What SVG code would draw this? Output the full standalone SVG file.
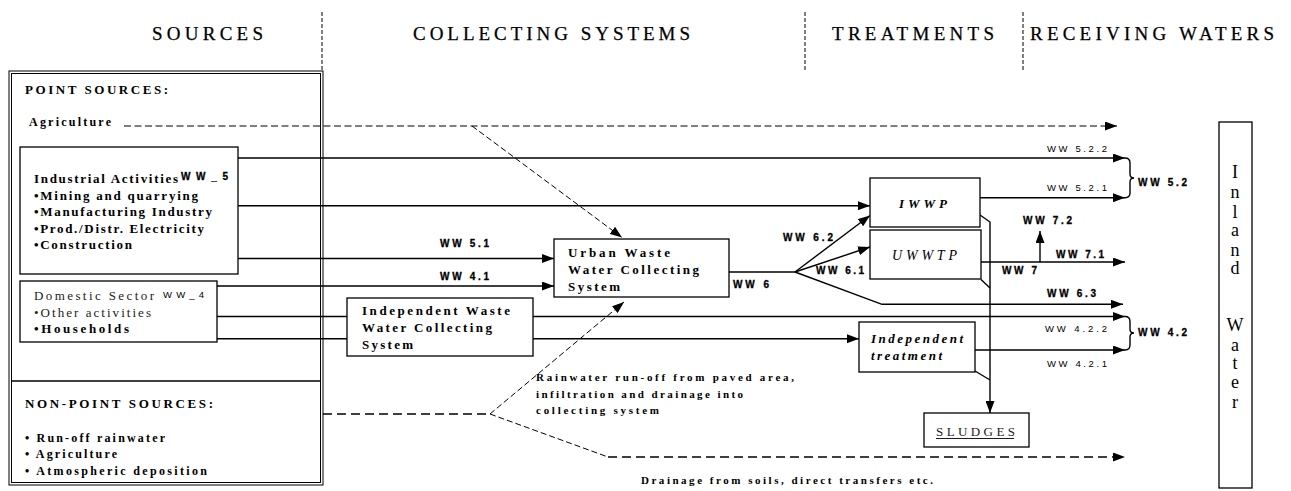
<svg xmlns="http://www.w3.org/2000/svg" width="1291" height="491" viewBox="0 0 1291 491">
<style>
.hd{font-family:"Liberation Serif","Times New Roman",serif;font-size:19px;fill:#000;stroke:#000;stroke-width:0.25}
.b13{font-family:"Liberation Serif","Times New Roman",serif;font-size:13px;font-weight:bold;fill:#000}
.b12{font-family:"Liberation Serif","Times New Roman",serif;font-size:12px;font-weight:bold;fill:#000}
.r13{font-family:"Liberation Serif","Times New Roman",serif;font-size:13px;fill:#222}
.bi{font-family:"Liberation Serif","Times New Roman",serif;font-size:13px;font-weight:bold;font-style:italic;fill:#000}
.it{font-family:"Liberation Serif","Times New Roman",serif;font-size:14px;font-style:italic;fill:#000}
.note{font-family:"Liberation Serif","Times New Roman",serif;font-size:11px;font-weight:bold;fill:#000}
.iw{font-family:"Liberation Serif","Times New Roman",serif;font-size:18px;fill:#000;text-anchor:middle}
.ww{font-family:"Liberation Sans",Arial,sans-serif;font-size:10px;font-weight:bold;fill:#000;stroke:#000;stroke-width:0.3}
.wl{font-family:"Liberation Sans",Arial,sans-serif;font-size:9.5px;fill:#000}
.box{fill:#fff;stroke:#000;stroke-width:1.3}
.ln{fill:none;stroke:#000;stroke-width:1.4}
.dv{fill:none;stroke:#000;stroke-width:1;stroke-dasharray:4,2}
.dh{fill:none;stroke:#000;stroke-width:1.2;stroke-dasharray:7,3.5}
.dd{fill:none;stroke:#000;stroke-width:1;stroke-dasharray:6,3}
.dk{fill:none;stroke:#000;stroke-width:1.6;stroke-dasharray:9,5}
</style>
<defs>
<marker id="ah" markerUnits="userSpaceOnUse" markerWidth="12" markerHeight="9" refX="12" refY="4.5" orient="auto" viewBox="0 0 12 9">
<path d="M0,0 L12,4.5 L0,9 z" fill="#000"/>
</marker>
</defs>
<rect width="1291" height="491" fill="#fff"/>

<g id="headers">
<line class="dv" x1="322" y1="12" x2="322" y2="72"/>
<line class="dv" x1="805" y1="12" x2="805" y2="72"/>
<line class="dv" x1="1023" y1="12" x2="1023" y2="72"/>
<text class="hd" x="152" y="39.5" textLength="111" lengthAdjust="spacing">SOURCES</text>
<text class="hd" x="413" y="39.5" textLength="277" lengthAdjust="spacing">COLLECTING SYSTEMS</text>
<text class="hd" x="832" y="39.5" textLength="162" lengthAdjust="spacing">TREATMENTS</text>
<text class="hd" x="1030" y="39.5" textLength="244" lengthAdjust="spacing">RECEIVING WATERS</text>
</g>

<g id="sources-frame">
<rect x="9" y="71" width="314" height="414" fill="none" stroke="#000" stroke-width="1"/>
<rect x="11.5" y="73.5" width="309" height="409" fill="none" stroke="#000" stroke-width="1"/>
<line x1="11.5" y1="381" x2="320.5" y2="381" stroke="#000" stroke-width="1.3"/>
<text class="b13" x="25" y="94" textLength="143" lengthAdjust="spacing">POINT SOURCES:</text>
<text class="b12" x="29" y="126" textLength="82" lengthAdjust="spacing">Agriculture</text>
<text class="b13" x="25" y="408" textLength="188" lengthAdjust="spacing">NON-POINT SOURCES:</text>
<text class="b12" x="25" y="441.7" textLength="140" lengthAdjust="spacing">• Run-off rainwater</text>
<text class="b12" x="25" y="458" textLength="92" lengthAdjust="spacing">• Agriculture</text>
<text class="b12" x="25" y="475" textLength="182" lengthAdjust="spacing">• Atmospheric deposition</text>
</g>

<g id="connectors">
<path class="dh" d="M124,126 H1117" marker-end="url(#ah)"/>
<path class="dd" d="M472,126 L622,237.5" marker-end="url(#ah)"/>
<path class="ln" d="M238,158 H1125" marker-end="url(#ah)"/>
<path class="ln" d="M238,205.7 H870" marker-end="url(#ah)"/>
<path class="ln" d="M238,258.5 H554" marker-end="url(#ah)"/>
<path class="ln" d="M217,286 H554" marker-end="url(#ah)"/>
<path class="ln" d="M217,316.5 H1125" marker-end="url(#ah)"/>
<path class="ln" d="M217,338.7 H859" marker-end="url(#ah)"/>
<path class="ln" d="M729,272 H795"/>
<path class="ln" d="M795,272 L870,215.5" marker-end="url(#ah)"/>
<path class="ln" d="M795,272 L870,247" marker-end="url(#ah)"/>
<path class="ln" d="M795,272 L882,304.3 H1123" marker-end="url(#ah)"/>
<path class="ln" d="M980,197.7 H1125" marker-end="url(#ah)"/>
<path class="ln" d="M981,262 H1125" marker-end="url(#ah)"/>
<path class="ln" d="M1040,262 V231" marker-end="url(#ah)"/>
<path class="ln" d="M975,350 H1125" marker-end="url(#ah)"/>
<path class="ln" d="M980,215 L990,222 V413" marker-end="url(#ah)"/>
<path class="ln" d="M981,279.5 L990,288"/>
<path class="ln" d="M975,371 L990,380"/>
<path class="ln" d="M1125,158 Q1130,158 1130,163 V174 Q1130,178 1134,178 Q1130,178 1130,182 V193 Q1130,197.7 1125,197.7"/>
<path class="ln" d="M1125,316.5 Q1130,316.5 1130,321.5 V329 Q1130,333 1134,333 Q1130,333 1130,337 V345 Q1130,350 1125,350"/>
<path class="dk" d="M323,414 H490"/>
<path class="dd" d="M490,414 L624,302" marker-end="url(#ah)"/>
<path class="dd" d="M490,414 L608,457"/>
<path class="dk" d="M608,457 H1125" marker-end="url(#ah)"/>
</g>

<g id="industrial">
<rect class="box" x="20" y="147" width="218" height="127"/>
<text class="b13" x="34" y="183" textLength="144" lengthAdjust="spacing">Industrial Activities</text>
<text class="ww" x="181" y="180" font-size="10" textLength="47" lengthAdjust="spacing">WW_5</text>
<text class="b13" x="34" y="199.5" textLength="164" lengthAdjust="spacing">•Mining and quarrying</text>
<text class="b13" x="34" y="216" textLength="178" lengthAdjust="spacing">•Manufacturing Industry</text>
<text class="b13" x="34" y="232.5" textLength="170" lengthAdjust="spacing">•Prod./Distr. Electricity</text>
<text class="b13" x="34" y="249" textLength="98" lengthAdjust="spacing">•Construction</text>
</g>

<g id="domestic">
<rect class="box" x="20" y="281" width="197" height="61"/>
<text class="r13" x="34" y="300" textLength="120" lengthAdjust="spacing">Domestic Sector</text>
<text class="wl" x="163" y="298" font-size="9.5" textLength="41" lengthAdjust="spacing">WW_4</text>
<text class="r13" x="34" y="316.7" textLength="117" lengthAdjust="spacing">•Other activities</text>
<text class="b13" x="34" y="333" textLength="95" lengthAdjust="spacing">•Households</text>
</g>

<g id="urban">
<rect class="box" x="554" y="239" width="175" height="58"/>
<text class="b13" x="568" y="257.3" textLength="102" lengthAdjust="spacing">Urban Waste</text>
<text class="b13" x="568" y="274.3" textLength="131" lengthAdjust="spacing">Water Collecting</text>
<text class="b13" x="568" y="290.7" textLength="52" lengthAdjust="spacing">System</text>
</g>

<g id="independent-collecting">
<rect class="box" x="347" y="298" width="186" height="58"/>
<text class="b13" x="362" y="315" textLength="148" lengthAdjust="spacing">Independent Waste</text>
<text class="b13" x="362" y="331.7" textLength="130" lengthAdjust="spacing">Water Collecting</text>
<text class="b13" x="362" y="349.3" textLength="51" lengthAdjust="spacing">System</text>
</g>

<g id="iwwp">
<rect class="box" x="870" y="178" width="110" height="49"/>
<text class="bi" x="899" y="207.7" font-size="14" textLength="48" lengthAdjust="spacing">IWWP</text>
</g>

<g id="uwwtp">
<rect class="box" x="870" y="230" width="111" height="49"/>
<text class="it" x="892" y="260" textLength="65" lengthAdjust="spacing">UWWTP</text>
</g>

<g id="independent-treatment">
<rect class="box" x="859" y="322" width="116" height="50"/>
<text class="bi" x="871" y="343.3" font-size="12.5" textLength="92" lengthAdjust="spacing">Independent</text>
<text class="bi" x="871" y="360" font-size="12.5" textLength="71" lengthAdjust="spacing">treatment</text>
</g>

<g id="sludges">
<rect class="box" x="924" y="413" width="105" height="34"/>
<text class="r13" x="936" y="436" fill="#000" textLength="79" lengthAdjust="spacing">SLUDGES</text>
<line x1="936" y1="438.5" x2="1014" y2="438.5" stroke="#000" stroke-width="0.9"/>
</g>

<g id="inland-water">
<rect class="box" x="1219" y="122" width="33" height="366"/>
<text class="iw" x="1235" y="178">I</text>
<text class="iw" x="1235" y="198">n</text>
<text class="iw" x="1235" y="218">l</text>
<text class="iw" x="1235" y="236">a</text>
<text class="iw" x="1235" y="256">n</text>
<text class="iw" x="1235" y="274">d</text>
<text class="iw" x="1235" y="331">W</text>
<text class="iw" x="1235" y="351">a</text>
<text class="iw" x="1235" y="369">t</text>
<text class="iw" x="1235" y="388">e</text>
<text class="iw" x="1235" y="408">r</text>
</g>

<g id="labels">
<text class="wl" x="1047" y="152.3" textLength="60" lengthAdjust="spacing">WW 5.2.2</text>
<text class="wl" x="1047" y="191" textLength="60" lengthAdjust="spacing">WW 5.2.1</text>
<text class="ww" x="1138" y="185.7" textLength="49" lengthAdjust="spacing">WW 5.2</text>
<text class="ww" x="440" y="246.7" textLength="49" lengthAdjust="spacing">WW 5.1</text>
<text class="ww" x="440" y="280" textLength="49" lengthAdjust="spacing">WW 4.1</text>
<text class="ww" x="733" y="288.3" textLength="36" lengthAdjust="spacing">WW 6</text>
<text class="ww" x="783" y="241" textLength="50" lengthAdjust="spacing">WW 6.2</text>
<text class="ww" x="816" y="274.3" textLength="48" lengthAdjust="spacing">WW 6.1</text>
<text class="ww" x="1047" y="296.7" textLength="49" lengthAdjust="spacing">WW 6.3</text>
<text class="ww" x="1023" y="224.3" textLength="49" lengthAdjust="spacing">WW 7.2</text>
<text class="ww" x="1056" y="257.7" textLength="48" lengthAdjust="spacing">WW 7.1</text>
<text class="ww" x="1002" y="274.3" textLength="35" lengthAdjust="spacing">WW 7</text>
<text class="wl" x="1045" y="332.3" textLength="62" lengthAdjust="spacing">WW 4.2.2</text>
<text class="wl" x="1047" y="367.3" textLength="60" lengthAdjust="spacing">WW 4.2.1</text>
<text class="ww" x="1138" y="336" textLength="49" lengthAdjust="spacing">WW 4.2</text>
<text class="note" x="536" y="380.5" textLength="258" lengthAdjust="spacing">Rainwater run-off from paved area,</text>
<text class="note" x="536" y="397.5" textLength="207" lengthAdjust="spacing">infiltration and drainage into</text>
<text class="note" x="536" y="414" textLength="123" lengthAdjust="spacing">collecting system</text>
<text class="note" x="641" y="484" textLength="292" lengthAdjust="spacing">Drainage from soils, direct transfers etc.</text>
</g>
</svg>
